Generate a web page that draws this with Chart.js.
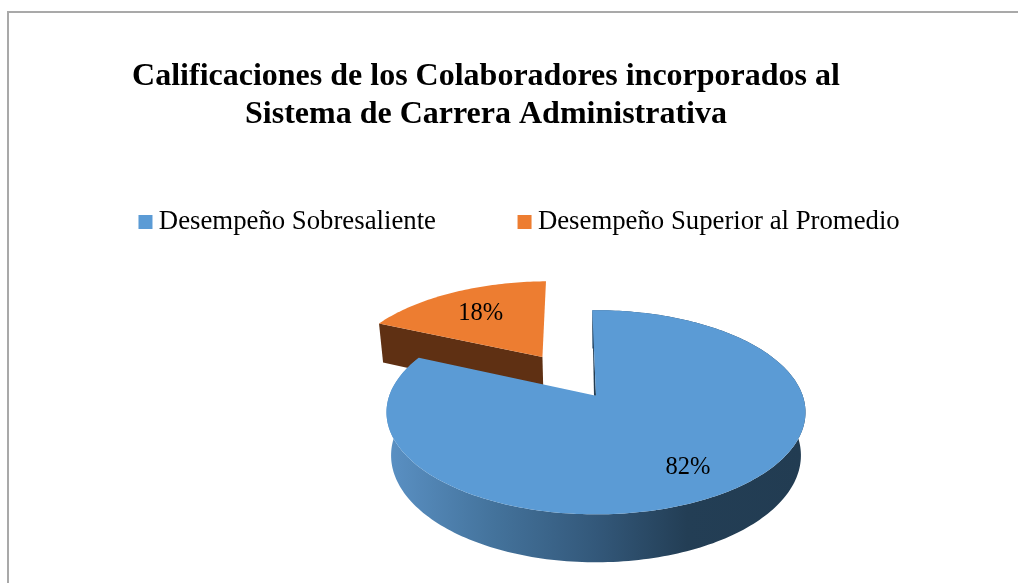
<!DOCTYPE html>
<html><head><meta charset="utf-8">
<style>
html,body{margin:0;padding:0;background:#fff;width:1018px;height:583px;overflow:hidden}
#frame{position:absolute;left:7px;top:11px;width:1011px;height:572px;box-sizing:border-box;border-left:2px solid #a9a9a9;border-top:2px solid #a9a9a9}
#wrap{position:absolute;left:0;top:0;width:1018px;height:583px}
</style>
<script src="https://cdn.jsdelivr.net/npm/chart.js@4/dist/chart.umd.min.js"></script>
</head><body>
<div id="frame"></div>
<div id="wrap"><canvas id="c" width="1018" height="583"></canvas></div>
<script>
const titleLines = ['Calificaciones de los Colaboradores incorporados al','Sistema de Carrera Administrativa'];
const categories = ['Desempeño Sobresaliente','Desempeño Superior al Promedio'];
const values = [82,18];
const colors = ['#5B9BD5','#ED7D31'];
const sideColors = ['#2f5070','#5f3013'];
const explode = [0,0.50];
const labelRadius = [0.76,0.68];
const labelNudgeX = [-5,1];
const labelNudgeY = [2,2];

// perspective of the tilted pie, relative to the library's radius
const K=-0.1626, AX=1.4423, BY=0.6933, DEPTH=0.0213, VANISH=2004;

function project(el,ux,uy){
  const R=el.outerRadius, w=1+K*uy;
  return {x:el.x+AX*R*ux/w, y:el.y+BY*R*uy/w, w};
}
function lower(el,p){
  const l=DEPTH/p.w;
  return {x:p.x+l*(el.x-p.x), y:p.y+l*(el.y+VANISH-p.y), w:p.w};
}
function rim(el,ex,a0,a1,n){
  const mid=(a0+a1)/2, ox=Math.cos(mid)*ex, oy=Math.sin(mid)*ex, out=[];
  for(let i=0;i<=n;i++){
    const a=a0+(a1-a0)*i/n;
    out.push(project(el,ox+Math.cos(a),oy+Math.sin(a)));
  }
  return {pts:out, apex:project(el,ox,oy)};
}
function path(ctx,pts){
  ctx.beginPath();
  pts.forEach((p,i)=>i?ctx.lineTo(p.x,p.y):ctx.moveTo(p.x,p.y));
  ctx.closePath();
}
const pie3d={
  id:'pie3d',
  afterLayout(chart){
    // the reference centres title, legend and pie on different axes
    chart.chartArea.left=174;
    const t=chart.titleBlock, l=chart.legend;
    t.left-=23; t.right-=23; t.top+=7; t.bottom+=7;
    l.left+=13.6; l.right+=13.6; l.top-=7; l.bottom-=7;
  },
  beforeDatasetDraw(chart,args){
    const ctx=chart.ctx, arcs=chart.getDatasetMeta(args.index).data;
    ctx.save();
    // exploded slice first: it sits behind the main one
    const e1=arcs[1], s1=rim(e1,explode[1],e1.startAngle,e1.endAngle,60);
    const tip=s1.pts[0];
    ctx.fillStyle=sideColors[1];
    path(ctx,[tip,s1.apex,lower(e1,s1.apex),lower(e1,tip)]); ctx.fill();
    path(ctx,[s1.apex].concat(s1.pts)); ctx.fillStyle=colors[1]; ctx.fill();

    const e0=arcs[0], s0=rim(e0,explode[0],e0.startAngle,e0.endAngle,240);
    const bottom=s0.pts.map(p=>lower(e0,p)).reverse();
    const left=e0.x-AX*e0.outerRadius, right=e0.x+AX*e0.outerRadius;
    const g=ctx.createLinearGradient(left,0,right,0);
    g.addColorStop(0,'#5a90c3');
    g.addColorStop(0.25,'#44739c');
    g.addColorStop(0.5,'#33587a');
    g.addColorStop(0.72,'#233e55');
    g.addColorStop(1,'#223c52');
    ctx.fillStyle=g;
    path(ctx,s0.pts.concat(bottom)); ctx.fill();
    // thin visible part of the inner wall
    ctx.fillStyle='#223c52';
    const t0=s0.pts[0];
    path(ctx,[t0,s0.apex,{x:s0.apex.x-2,y:s0.apex.y}]); ctx.fill();
    path(ctx,[s0.apex].concat(s0.pts)); ctx.fillStyle=colors[0]; ctx.fill();

    // value labels
    const total=values.reduce((a,b)=>a+b,0);
    ctx.fillStyle='#000';
    ctx.font='24.5px "Liberation Serif"';
    ctx.textAlign='center'; ctx.textBaseline='middle';
    arcs.forEach((el,i)=>{
      const mid=(el.startAngle+el.endAngle)/2, r=explode[i]+labelRadius[i];
      const p=project(el,Math.cos(mid)*r,Math.sin(mid)*r);
      ctx.fillText(Math.round(values[i]/total*100)+'%',p.x+labelNudgeX[i],p.y+labelNudgeY[i]);
    });
    ctx.restore();
    return false;
  }
};
new Chart(document.getElementById('c'),{
  type:'pie',
  data:{labels:categories,datasets:[{data:values,backgroundColor:colors,borderWidth:0}]},
  plugins:[pie3d],
  options:{
    responsive:false,animation:false,
    rotation:-1.2,
    layout:{padding:{left:0,right:0,top:47,bottom:44}},
    plugins:{
      tooltip:{enabled:false},
      title:{display:true,text:titleLines,color:'#000',
        font:{family:'"Liberation Serif"',size:32,weight:'bold',lineHeight:38/32},
        padding:{top:4,bottom:0}},
      legend:{display:true,position:'top',
        labels:{color:'#000',font:{family:'"Liberation Serif"',size:26.75},
          usePointStyle:true,pointStyle:'rect',boxWidth:0.01,boxHeight:14,padding:88.6}}
    }
  }
});
</script>
</body></html>
